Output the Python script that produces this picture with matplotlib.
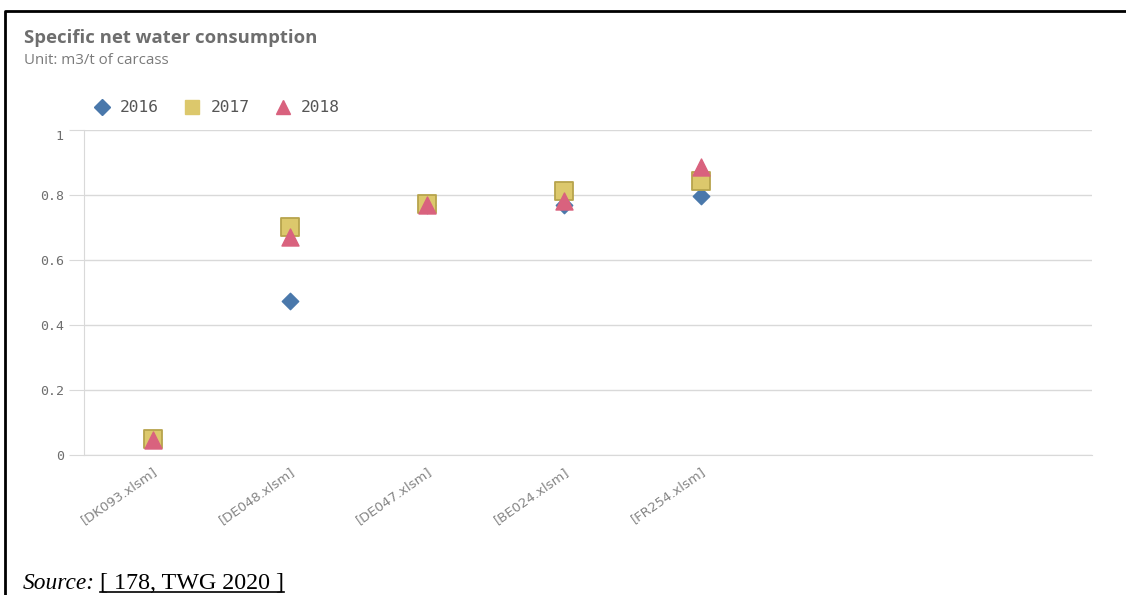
import matplotlib.pyplot as plt
from matplotlib.lines import Line2D

# --- data ---
sites = ['[DK093.xlsm]', '[DE048.xlsm]', '[DE047.xlsm]', '[BE024.xlsm]', '[FR254.xlsm]']
v2016 = [0.05, 0.475, 0.77, 0.768, 0.797]
v2017 = [0.05, 0.702, 0.772, 0.812, 0.842]
v2018 = [0.045, 0.672, 0.77, 0.782, 0.885]
years = ['2016', '2017', '2018']
yticks = [0, 0.2, 0.4, 0.6, 0.8, 1]
ytick_labels = ['0', '0.2', '0.4', '0.6', '0.8', '1']

grey = '#6e6e6e'
mono = 'DejaVu Sans Mono'
c16, c17, c18 = '#4a78ab', '#dcc86c', '#d9627e'

fig = plt.figure(figsize=(11.26, 5.95), dpi=100)
ax = fig.add_axes([84 / 1126, 1 - 455 / 595, (1092 - 84) / 1126, (455 - 130) / 595])

x = list(range(len(sites)))
ax.scatter(x, v2016, marker='D', s=70, color=c16, zorder=3)
ax.scatter(x, v2017, marker='s', s=180, color=c17, edgecolor='#b7a44c',
           linewidth=1.3, zorder=4)
ax.scatter(x, v2018, marker='^', s=150, color=c18, zorder=5)

ax.set_xlim(-0.5, 6.85)
ax.set_ylim(0, 1)
ax.set_yticks(yticks)
ax.set_yticklabels(ytick_labels, family=mono, fontsize=9.5, color=grey)
ax.get_yticklabels()[-1].set_verticalalignment('top')
ax.set_xticks(x)
ax.set_xticklabels(sites, rotation=35, ha='right', rotation_mode='anchor',
                   fontsize=9.5, color='#858585')
ax.tick_params(axis='y', length=11, color='#d9d9d9', pad=3.5)
ax.tick_params(axis='x', length=0, pad=7)
ax.grid(axis='y', color='#d9d9d9', linewidth=1)
ax.set_axisbelow(True)
for side in ['top', 'right']:
    ax.spines[side].set_visible(False)
ax.spines['left'].set_color('#d9d9d9')
ax.spines['bottom'].set_color('#d9d9d9')

# legend
handles = [
    Line2D([], [], linestyle='none', marker='D', markersize=8, color=c16),
    Line2D([], [], linestyle='none', marker='s', markersize=10, color=c17),
    Line2D([], [], linestyle='none', marker='^', markersize=10, color=c18),
]
leg = ax.legend(handles, years, loc='center left',
                bbox_to_anchor=(86 / 1126, 1 - 108 / 595),
                bbox_transform=fig.transFigure, ncol=3, frameon=False,
                prop={'family': mono, 'size': 11.7}, handletextpad=0.6,
                columnspacing=1.55, handlelength=1.0, borderpad=0)
for t in leg.get_texts():
    t.set_color('#555555')

fig.text(24 / 1126, 1 - 38 / 595, 'Specific net water consumption', fontsize=13.3,
         fontweight='bold', color=grey, va='center', family='Open Sans')
fig.text(24 / 1126, 1 - 61 / 595, 'Unit: m3/t of carcass', fontsize=10.8,
         color='#7a7a7a', va='center', family='Open Sans')

# source line
fig.text(23 / 1126, 1 - 589 / 595, 'Source:', family='Liberation Serif',
         style='italic', fontsize=16.8, va='baseline')
s2 = fig.text(100 / 1126, 1 - 589 / 595, '[ 178, TWG 2020 ]',
              family='Liberation Serif', fontsize=17.3, va='baseline')
fig.canvas.draw()
bb = s2.get_window_extent().transformed(fig.transFigure.inverted())
uy = 1 - 592 / 595
fig.add_artist(Line2D([bb.x0, bb.x1], [uy, uy],
                      transform=fig.transFigure, color='black', linewidth=1.2))

# page frame
fig.add_artist(Line2D([5 / 1126, 5 / 1126, 1], [0, 1 - 11 / 595, 1 - 11 / 595],
                      transform=fig.transFigure, color='black', linewidth=2))

fig.savefig('out.png', dpi=100)
